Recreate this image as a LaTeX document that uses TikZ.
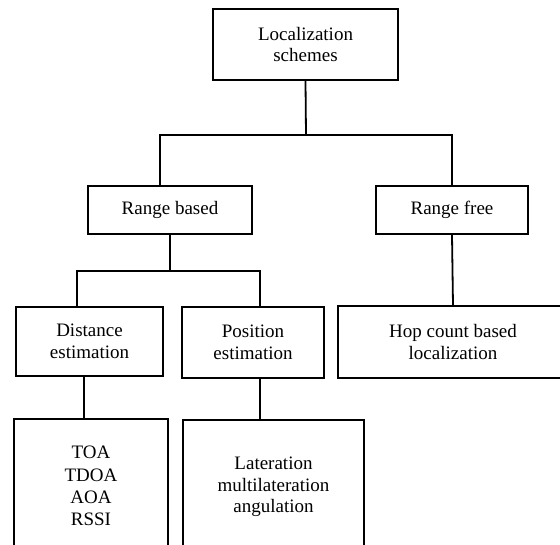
\documentclass[tikz,border=0pt]{standalone}
\usepackage{fontspec}
\setmainfont{Liberation Serif}
\usetikzlibrary{positioning}
\tikzset{
  box/.style={draw, line width=1.8pt, inner sep=0pt, align=center,
    font=\fontsize{19}{21.5}\selectfont},
  link/.style={line width=1.8pt}
}

\begin{document}
\begin{tikzpicture}[x=1pt, y=-1pt, line join=miter]

  \useasboundingbox (0,0) rectangle (560,544);
  \clip (0,0) rectangle (560,544);

  % root
  \node[box, minimum width=185pt, minimum height=71pt] (loc) at (305.5,44.5) {Localization\\schemes};
  % second level
  \node[box, minimum width=164pt, minimum height=48pt] (rb) at (170,210) {Range based};
  \node[box, minimum width=152pt, minimum height=48pt] (rf) at (452,210) {Range free};
  % third level
  \node[box, minimum width=147pt, minimum height=69pt] (de) at (89.5,341.5) {Distance\\estimation};
  \node[box, minimum width=142pt, minimum height=71pt] (pe) at (253,342.5) {Position\\estimation};
  \node[box, minimum width=230pt, minimum height=72pt] (hop) at (453,342) {Hop count based\\localization};
  % methods
  \node[box, minimum width=154pt, minimum height=134pt, font=\fontsize{19}{22.3}\selectfont] (dm) at (91,486) {TOA\\TDOA\\AOA\\RSSI};
  \node[box, minimum width=181pt, minimum height=134pt] (pm) at (273.5,487) {Lateration\\multilateration\\angulation};

  % buses
  \coordinate (b1) at (306,135);
  \coordinate (b2) at (170,271);

  \draw[link] (loc.south) -- (b1);
  \draw[link] ([xshift=-10pt]rb.north) |- (b1) -| (rf.north);
  \draw[link] (rb.south) -- (b2);
  \draw[link] ([xshift=-12.5pt]de.north) |- (b2) -| ([xshift=7pt]pe.north);
  \draw[link] (rf.south) -- (hop.north);
  \draw[link] ([xshift=-5.5pt]de.south) -- ([xshift=-5.5pt]de.south |- dm.north);
  \draw[link] ([xshift=7pt]pe.south) -- ([xshift=7pt]pe.south |- pm.north);

\end{tikzpicture}
\end{document}
